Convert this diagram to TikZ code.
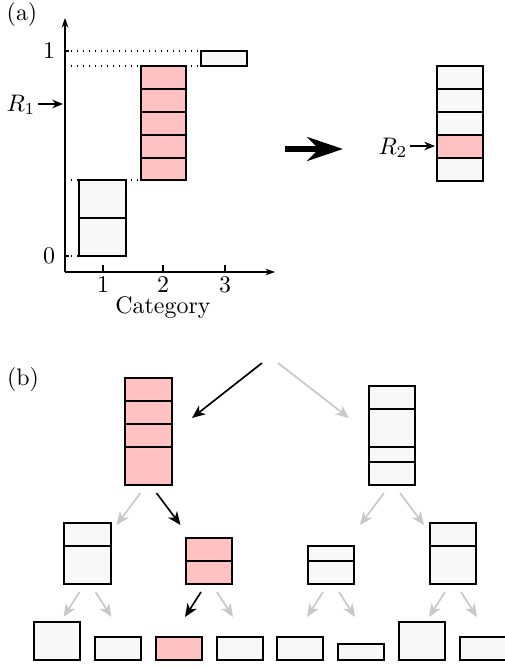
\documentclass[tikz,border=0pt]{standalone}
\usetikzlibrary{arrows.meta,calc}

\newlength\pxu
\setlength\pxu{0.41667bp}
\definecolor{pinkfill}{RGB}{255,193,193}
\definecolor{cellfill}{RGB}{248,248,248}
\definecolor{missgray}{RGB}{200,200,200}

\begin{document}
\begin{tikzpicture}
      [%%%%%%%%%%%%%%%%%%%%%%%%%%%%%%
      x=\pxu, y=-\pxu,
      box/.style={rectangle,draw=black,thick,fill=cellfill,inner sep=0pt,outer sep=0pt,anchor=north west},
      hot/.style={box,fill=pinkfill},
      divider/.style={draw=black,line width=0.6pt},
      axis/.style={draw=black,line width=0.5pt,-{Stealth[length=4pt,width=2.8pt]}},
      guide/.style={dotted,line width=0.5pt},
      pointer/.style={draw=black,line width=0.6pt,-{Stealth[length=4.5pt,width=3.6pt]}},
      hit/.style={draw=black,line width=0.7pt,-{Stealth[length=5.5pt,width=4.6pt,inset=1.6pt]}},
      miss/.style={hit,draw=missgray},
      bigarrow/.style={draw=black,line width=2.4pt,-{Stealth[length=15pt,width=10pt,inset=5pt]}},
      ]%%%%%%%%%%%%%%%%%%%%%%%%%%%%%%
      \useasboundingbox (0,0) rectangle (504,668);

      % (a) cumulative categories
      \node (alabel) at (22,15) {(a)};
      \draw[guide] (65,51) -- (201,51);
      \draw[guide] (65,66) -- (201,66);
      \draw[guide] (65,180) -- (141,180);
      \draw[guide] (65,256) -- (79,256);

      \node[box,minimum width=47\pxu,minimum height=76\pxu] (catone) at (79,180) {};
      \draw[divider] (catone.west |- 0,218) -- (catone.east |- 0,218);
      \node[hot,minimum width=45\pxu,minimum height=114\pxu] (cattwo) at (141,66) {};
      \foreach \y in {89,112,135,158}
        \draw[divider] (cattwo.west |- 0,\y) -- (cattwo.east |- 0,\y);
      \node[box,minimum width=46\pxu,minimum height=15\pxu] (catthree) at (201,51) {};

      \coordinate (orig) at (65,272);
      \coordinate (ytop) at (65,18);
      \coordinate (xend) at (275,272);
      \draw[axis] (orig) -- (ytop);
      \draw[axis] (orig) -- (xend);
      \foreach \x/\c in {103/1,163/2,225/3}{
        \draw[line width=0.5pt] (\x,272) -- (\x,265);
        \node[inner sep=1pt] (tick\c) at (\x,285) {\c};
      }
      \node[inner sep=1pt] (xlabel) at (163,308) {Category};
      \draw[line width=0.5pt] (65,51) -- (69,51);
      \draw[line width=0.5pt] (65,256) -- (69,256);
      \node (yone) at (49,51) {1};
      \node (yzero) at (49,256) {0};

      \node[inner sep=1pt] (rone) at (21,105) {$R_1$};
      \coordinate (ronehit) at (63,104);
      \draw[pointer] (rone.east |- ronehit) -- (ronehit);

      \coordinate (bigfrom) at (285,149);
      \coordinate (bigto) at (343,149);
      \draw[bigarrow] (bigfrom) -- (bigto);

      \node[box,minimum width=46\pxu,minimum height=115\pxu] (picked) at (437,66) {};
      \fill[pinkfill] (picked.west |- 0,135) rectangle (picked.east |- 0,158);
      \foreach \y in {89,112,135,158}
        \draw[divider] (picked.west |- 0,\y) -- (picked.east |- 0,\y);
      \draw[thick] (picked.north west) rectangle (picked.south east);
      \node[inner sep=1pt] (rtwo) at (393,148) {$R_2$};
      \coordinate (rtwohit) at (435,146);
      \draw[pointer] (rtwo.east |- rtwohit) -- (rtwohit);

      % (b) tree of samples
      \node (blabel) at (23,380) {(b)};
      \coordinate (root) at (270,355);
      \draw[hit] ($(root)+(-8,8)$) -- ($(root)+(-78,63)$);
      \draw[miss] ($(root)+(8,8)$) -- ($(root)+(79,63)$);

      \node[hot,minimum width=47\pxu,minimum height=107\pxu] (lefttop) at (125,378) {};
      \foreach \y in {401,424,447}
        \draw[divider] (lefttop.west |- 0,\y) -- (lefttop.east |- 0,\y);
      \node[box,minimum width=46\pxu,minimum height=99\pxu] (righttop) at (369,386) {};
      \foreach \y in {409,447,462}
        \draw[divider] (righttop.west |- 0,\y) -- (righttop.east |- 0,\y);

      \draw[miss] ($(lefttop.south)+(-8,8)$) -- ($(lefttop.south)+(-32,40)$);
      \draw[hit] ($(lefttop.south)+(8,8)$) -- ($(lefttop.south)+(32,40)$);
      \draw[miss] ($(righttop.south)+(-8,8)$) -- ($(righttop.south)+(-32,40)$);
      \draw[miss] ($(righttop.south)+(8,8)$) -- ($(righttop.south)+(32,40)$);

      \node[box,minimum width=47\pxu,minimum height=61\pxu] (midA) at (64,523) {};
      \draw[divider] (midA.west |- 0,546) -- (midA.east |- 0,546);
      \node[hot,minimum width=46\pxu,minimum height=46\pxu] (midB) at (186,538) {};
      \draw[divider] (midB.west |- 0,561) -- (midB.east |- 0,561);
      \node[box,minimum width=46\pxu,minimum height=38\pxu] (midC) at (308,546) {};
      \draw[divider] (midC.west |- 0,561) -- (midC.east |- 0,561);
      \node[box,minimum width=46\pxu,minimum height=61\pxu] (midD) at (430,523) {};
      \draw[divider] (midD.west |- 0,546) -- (midD.east |- 0,546);

      \foreach \m/\l/\r in {midA/miss/miss,midB/hit/miss,midC/miss/miss,midD/miss/miss}{
        \draw[\l] ($(\m.south)+(-8,8)$) -- ($(\m.south)+(-24,33)$);
        \draw[\r] ($(\m.south)+(8,8)$) -- ($(\m.south)+(24,33)$);
      }

      \foreach \n/\x/\t/\f in {1/34/622/cellfill,2/95/637/cellfill,3/156/637/pinkfill,
          4/217/637/cellfill,5/277/637/cellfill,6/338/644/cellfill,7/399/622/cellfill,8/460/637/cellfill}
        \node[box,fill=\f,minimum width=46\pxu,minimum height={(660-\t)*\pxu}] (leaf\n) at (\x,\t) {};
    \end{tikzpicture}
\end{document}
